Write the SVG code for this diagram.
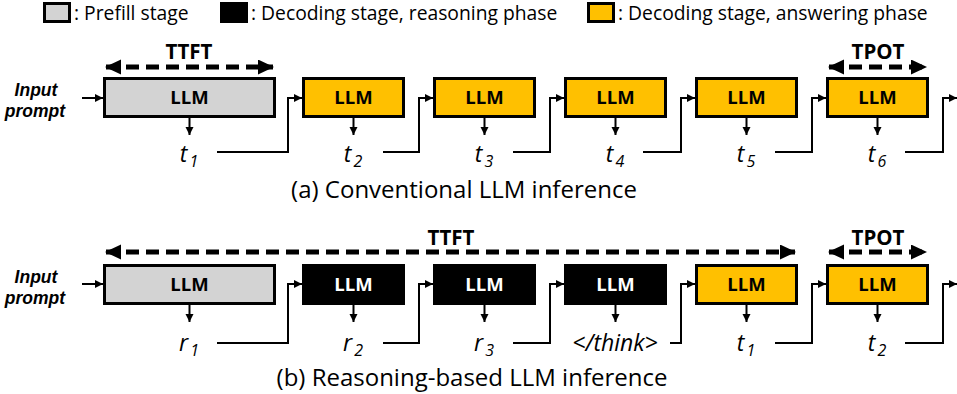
<svg xmlns="http://www.w3.org/2000/svg" width="957" height="394" viewBox="0 0 957 394">
<defs>
<style>
text{font-family:"Open Sans","Liberation Sans",sans-serif;fill:#000}
.lg{font-size:19.3px}
.llm{font-size:18.5px;font-weight:bold;text-anchor:middle}
.llmw{font-size:18.5px;font-weight:bold;text-anchor:middle;fill:#fff}
.ip{font-family:"Liberation Sans",Arial,sans-serif;font-size:17.5px;font-weight:bold;font-style:italic;text-anchor:middle}
.tok{font-size:23px;font-style:italic;text-anchor:middle}
.sub{font-size:16px}
.cap{font-size:24px;text-anchor:middle}
.met{font-size:20.5px;font-weight:bold;text-anchor:middle}
.pre{fill:#d3d3d3;stroke:#000;stroke-width:3}
.dec{fill:#000;stroke:#000;stroke-width:3}
.ans{fill:#ffc000;stroke:#000;stroke-width:3}
.c{fill:none;stroke:#000;stroke-width:2}
.d{fill:none;stroke:#000;stroke-width:5;stroke-dasharray:13 7}
</style>
<marker id="ah" markerUnits="userSpaceOnUse" markerWidth="10" markerHeight="10" refX="8" refY="4" orient="auto">
<path d="M0,0 L8,4 L0,8 Z" fill="#000"/>
</marker>
<marker id="big" markerUnits="userSpaceOnUse" markerWidth="18" markerHeight="18" refX="15" refY="7.5" orient="auto-start-reverse">
<path d="M0,0 L16,7.5 L0,15 Z" fill="#000"/>
</marker>
</defs>

<g id="legend">
<rect class="pre" x="44.5" y="3.5" width="25" height="18"/>
<text class="lg" x="74" y="20">: Prefill stage</text>
<rect class="dec" x="221.5" y="3.5" width="25" height="18"/>
<text class="lg" x="251" y="20">: Decoding stage, reasoning phase</text>
<rect class="ans" x="588.5" y="3.5" width="25" height="18"/>
<text class="lg" x="618" y="20">: Decoding stage, answering phase</text>
</g>

<!-- Row (a) -->
<g id="a-input"><text class="ip" x="36" y="96">Input</text><text class="ip" x="35" y="117">prompt</text></g>
<g id="a-ttft"><text class="met" x="189" y="59">TTFT</text></g>
<g id="a-tpot"><text class="met" x="878" y="59">TPOT</text></g>
<g id="a-n1"><rect class="pre" x="104.5" y="78.5" width="170" height="38"/><text class="llm" x="189.5" y="104">LLM</text></g>
<g id="a-n2"><rect class="ans" x="303.5" y="78.5" width="100" height="38"/><text class="llm" x="353.5" y="104">LLM</text></g>
<g id="a-n3"><rect class="ans" x="434.5" y="78.5" width="100" height="38"/><text class="llm" x="484.5" y="104">LLM</text></g>
<g id="a-n4"><rect class="ans" x="565.5" y="78.5" width="100" height="38"/><text class="llm" x="615.5" y="104">LLM</text></g>
<g id="a-n5"><rect class="ans" x="696.5" y="78.5" width="100" height="38"/><text class="llm" x="746.5" y="104">LLM</text></g>
<g id="a-n6"><rect class="ans" x="827.5" y="78.5" width="100" height="38"/><text class="llm" x="877.5" y="104">LLM</text></g>
<g id="a-labels">
<text class="tok" x="189" y="162">t<tspan class="sub" dx="2" dy="5">1</tspan></text>
<text class="tok" x="353" y="162">t<tspan class="sub" dx="2" dy="5">2</tspan></text>
<text class="tok" x="484" y="162">t<tspan class="sub" dx="2" dy="5">3</tspan></text>
<text class="tok" x="615" y="162">t<tspan class="sub" dx="2" dy="5">4</tspan></text>
<text class="tok" x="746" y="162">t<tspan class="sub" dx="2" dy="5">5</tspan></text>
<text class="tok" x="877" y="162">t<tspan class="sub" dx="2" dy="5">6</tspan></text>
</g>
<text class="cap" x="464" y="198">(a) Conventional LLM inference</text>

<!-- Row (b) -->
<g id="b-input"><text class="ip" x="36" y="283">Input</text><text class="ip" x="35" y="304">prompt</text></g>
<g id="b-ttft"><text class="met" x="451" y="245">TTFT</text></g>
<g id="b-tpot"><text class="met" x="878" y="245">TPOT</text></g>
<g id="b-n1"><rect class="pre" x="104.5" y="265.5" width="170" height="38"/><text class="llm" x="189.5" y="291">LLM</text></g>
<g id="b-n2"><rect class="dec" x="303.5" y="265.5" width="100" height="38"/><text class="llmw" x="353.5" y="291">LLM</text></g>
<g id="b-n3"><rect class="dec" x="434.5" y="265.5" width="100" height="38"/><text class="llmw" x="484.5" y="291">LLM</text></g>
<g id="b-n4"><rect class="dec" x="565.5" y="265.5" width="100" height="38"/><text class="llmw" x="615.5" y="291">LLM</text></g>
<g id="b-n5"><rect class="ans" x="696.5" y="265.5" width="100" height="38"/><text class="llm" x="746.5" y="291">LLM</text></g>
<g id="b-n6"><rect class="ans" x="827.5" y="265.5" width="100" height="38"/><text class="llm" x="877.5" y="291">LLM</text></g>
<g id="b-labels">
<text class="tok" x="189" y="351">r<tspan class="sub" dx="2" dy="5">1</tspan></text>
<text class="tok" x="353" y="351">r<tspan class="sub" dx="2" dy="5">2</tspan></text>
<text class="tok" x="484" y="351">r<tspan class="sub" dx="2" dy="5">3</tspan></text>
<text class="tok" x="615" y="351">&lt;/think&gt;</text>
<text class="tok" x="746" y="351">t<tspan class="sub" dx="2" dy="5">1</tspan></text>
<text class="tok" x="877" y="351">t<tspan class="sub" dx="2" dy="5">2</tspan></text>
</g>
<text class="cap" x="472" y="386">(b) Reasoning-based LLM inference</text>

<g id="connectors">
<!-- metric arrows -->
<line class="d" x1="106" y1="67" x2="273" y2="67" marker-start="url(#big)" marker-end="url(#big)"/>
<line class="d" x1="829" y1="67" x2="926" y2="67" marker-start="url(#big)" marker-end="url(#big)"/>
<line class="d" x1="106" y1="252" x2="795" y2="252" marker-start="url(#big)" marker-end="url(#big)"/>
<line class="d" x1="829" y1="252" x2="926" y2="252" marker-start="url(#big)" marker-end="url(#big)"/>
<!-- row a -->
<line class="c" x1="82" y1="98" x2="103" y2="98" marker-end="url(#ah)"/>
<line class="c" x1="189.5" y1="118" x2="189.5" y2="135" marker-end="url(#ah)"/>
<line class="c" x1="353.5" y1="118" x2="353.5" y2="135" marker-end="url(#ah)"/>
<line class="c" x1="484.5" y1="118" x2="484.5" y2="135" marker-end="url(#ah)"/>
<line class="c" x1="615.5" y1="118" x2="615.5" y2="135" marker-end="url(#ah)"/>
<line class="c" x1="746.5" y1="118" x2="746.5" y2="135" marker-end="url(#ah)"/>
<line class="c" x1="877.5" y1="118" x2="877.5" y2="135" marker-end="url(#ah)"/>
<polyline class="c" points="217,152 288,152 288,98 302,98" marker-end="url(#ah)"/>
<polyline class="c" points="383,152 419,152 419,98 433,98" marker-end="url(#ah)"/>
<polyline class="c" points="513,152 550,152 550,98 564,98" marker-end="url(#ah)"/>
<polyline class="c" points="643,152 681,152 681,98 695,98" marker-end="url(#ah)"/>
<polyline class="c" points="775,152 812,152 812,98 826,98" marker-end="url(#ah)"/>
<polyline class="c" points="905,152 943,152 943,98 957,98" marker-end="url(#ah)"/>
<!-- row b -->
<line class="c" x1="82" y1="284" x2="103" y2="284" marker-end="url(#ah)"/>
<line class="c" x1="189.5" y1="305" x2="189.5" y2="322" marker-end="url(#ah)"/>
<line class="c" x1="353.5" y1="305" x2="353.5" y2="322" marker-end="url(#ah)"/>
<line class="c" x1="484.5" y1="305" x2="484.5" y2="322" marker-end="url(#ah)"/>
<line class="c" x1="615.5" y1="305" x2="615.5" y2="322" marker-end="url(#ah)"/>
<line class="c" x1="746.5" y1="305" x2="746.5" y2="322" marker-end="url(#ah)"/>
<line class="c" x1="877.5" y1="305" x2="877.5" y2="322" marker-end="url(#ah)"/>
<polyline class="c" points="217,343 288,343 288,284 302,284" marker-end="url(#ah)"/>
<polyline class="c" points="383,343 419,343 419,284 433,284" marker-end="url(#ah)"/>
<polyline class="c" points="513,343 550,343 550,284 564,284" marker-end="url(#ah)"/>
<polyline class="c" points="670,343 681,343 681,284 695,284" marker-end="url(#ah)"/>
<polyline class="c" points="775,343 812,343 812,284 826,284" marker-end="url(#ah)"/>
<polyline class="c" points="905,343 943,343 943,284 957,284" marker-end="url(#ah)"/>
</g>
</svg>
